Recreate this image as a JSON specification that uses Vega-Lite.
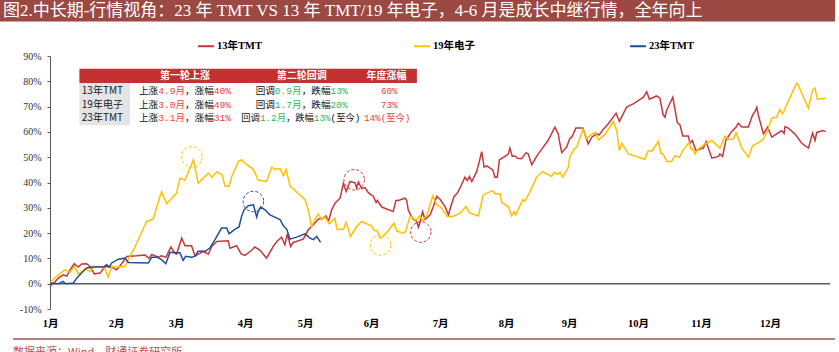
{
  "$schema": "https://vega.github.io/schema/vega-lite/v6.json",
  "width": 780,
  "height": 253,
  "autosize": {"type": "none"},
  "padding": {"left": 50, "top": 56, "right": 9, "bottom": 43},
  "background": "white",
  "config": {"view": {"stroke": null}, "axis": {"title": null, "grid": false, "labelOverlap": false}},
  "datasets": {
    "circles": [
      {"series": "19年电子", "day": 47.3, "pct": 50.1},
      {"series": "23年TMT", "day": 67.8, "pct": 32.5},
      {"series": "13年TMT", "day": 101.4, "pct": 41.1},
      {"series": "19年电子", "day": 110.2, "pct": 15.3},
      {"series": "13年TMT", "day": 123.6, "pct": 20.4}
    ],
    "heads": [
      {"label": "第一轮上涨", "day": 45, "pct": 82.1},
      {"label": "第二轮回调", "day": 83.9, "pct": 82.1},
      {"label": "年度涨幅", "day": 112.2, "pct": 82.1}
    ],
    "rowlabels": [
      {"label": "13年TMT", "pct": 76},
      {"label": "19年电子", "pct": 70.7},
      {"label": "23年TMT", "pct": 65.3}
    ],
    "cells": [
      {"kind": "up", "day": 45, "pct": 76, "text": "上涨4.9月，涨幅40%"},
      {"kind": "up", "day": 45, "pct": 70.7, "text": "上涨3.0月，涨幅49%"},
      {"kind": "up", "day": 45, "pct": 65.3, "text": "上涨3.1月，涨幅31%"},
      {"kind": "down", "day": 83.9, "pct": 76, "text": "回调0.9月，跌幅13%"},
      {"kind": "down", "day": 83.9, "pct": 70.7, "text": "回调1.7月，跌幅20%"},
      {"kind": "downnow", "day": 83.6, "pct": 65.3, "text": "回调1.2月，跌幅13%(至今)"},
      {"kind": "year", "day": 113.1, "pct": 76, "text": "60%"},
      {"kind": "year", "day": 113.1, "pct": 70.7, "text": "73%"},
      {"kind": "year", "day": 112.4, "pct": 65.3, "text": "14%(至今)"}
    ],
    "lines": [
      {"series": "13年TMT", "day": 0, "pct": -0.8}, {"series": "13年TMT", "day": 1.1, "pct": 0}, {"series": "13年TMT", "day": 2.8, "pct": 2.2}, {"series": "13年TMT", "day": 4.4, "pct": 3.5}, {"series": "13年TMT", "day": 5.6, "pct": 3}, {"series": "13年TMT", "day": 6.7, "pct": 5.5}, {"series": "13年TMT", "day": 8.1, "pct": 7.9}, {"series": "13年TMT", "day": 9.4, "pct": 6.6}, {"series": "13年TMT", "day": 10.6, "pct": 7.8}, {"series": "13年TMT", "day": 12.2, "pct": 7.9}, {"series": "13年TMT", "day": 13.3, "pct": 6.8}, {"series": "13年TMT", "day": 14.8, "pct": 3.9}, {"series": "13年TMT", "day": 16.7, "pct": 4.2}, {"series": "13年TMT", "day": 18.3, "pct": 6.8}, {"series": "13年TMT", "day": 20.6, "pct": 6.6}, {"series": "13年TMT", "day": 22.2, "pct": 5.5}, {"series": "13年TMT", "day": 23.9, "pct": 7.9}, {"series": "13年TMT", "day": 25.6, "pct": 10.8}, {"series": "13年TMT", "day": 28.9, "pct": 11}, {"series": "13年TMT", "day": 31.7, "pct": 11.3}, {"series": "13年TMT", "day": 33, "pct": 10}, {"series": "13年TMT", "day": 33.9, "pct": 11.6}, {"series": "13年TMT", "day": 36.1, "pct": 10.5}, {"series": "13年TMT", "day": 37.2, "pct": 11}, {"series": "13年TMT", "day": 38.6, "pct": 10.4}, {"series": "13年TMT", "day": 40.3, "pct": 14.5}, {"series": "13年TMT", "day": 41.7, "pct": 12}, {"series": "13年TMT", "day": 42.2, "pct": 11.7}, {"series": "13年TMT", "day": 43.9, "pct": 18}, {"series": "13年TMT", "day": 45, "pct": 15}, {"series": "13年TMT", "day": 47.2, "pct": 15}, {"series": "13年TMT", "day": 48.3, "pct": 11}, {"series": "13年TMT", "day": 51.1, "pct": 12.7}, {"series": "13年TMT", "day": 52.8, "pct": 11.7}, {"series": "13年TMT", "day": 53.9, "pct": 14.7}, {"series": "13年TMT", "day": 55.6, "pct": 16.7}, {"series": "13年TMT", "day": 59.4, "pct": 17}, {"series": "13年TMT", "day": 60, "pct": 14}, {"series": "13年TMT", "day": 62.2, "pct": 15}, {"series": "13年TMT", "day": 63.7, "pct": 11.8}, {"series": "13年TMT", "day": 65, "pct": 11.2}, {"series": "13年TMT", "day": 67.2, "pct": 13.2}, {"series": "13年TMT", "day": 68.3, "pct": 14.5}, {"series": "13年TMT", "day": 70, "pct": 13.2}, {"series": "13年TMT", "day": 72.2, "pct": 10.1}, {"series": "13年TMT", "day": 74.4, "pct": 14.7}, {"series": "13年TMT", "day": 75.6, "pct": 16.7}, {"series": "13年TMT", "day": 77.2, "pct": 18.4}, {"series": "13年TMT", "day": 78.3, "pct": 15.4}, {"series": "13年TMT", "day": 79.1, "pct": 19.7}, {"series": "13年TMT", "day": 80.2, "pct": 14.7}, {"series": "13年TMT", "day": 81.1, "pct": 16.3}, {"series": "13年TMT", "day": 84.4, "pct": 17.6}, {"series": "13年TMT", "day": 86.1, "pct": 21.3}, {"series": "13年TMT", "day": 87.8, "pct": 23.3}, {"series": "13年TMT", "day": 89.4, "pct": 25.5}, {"series": "13年TMT", "day": 91.1, "pct": 25.9}, {"series": "13年TMT", "day": 92, "pct": 26.8}, {"series": "13年TMT", "day": 92.8, "pct": 24.6}, {"series": "13年TMT", "day": 93.9, "pct": 29.2}, {"series": "13年TMT", "day": 95, "pct": 31.8}, {"series": "13年TMT", "day": 96.7, "pct": 33.8}, {"series": "13年TMT", "day": 97.8, "pct": 39.7}, {"series": "13年TMT", "day": 98.7, "pct": 36.4}, {"series": "13年TMT", "day": 100, "pct": 40.4}, {"series": "13年TMT", "day": 101.7, "pct": 39.9}, {"series": "13年TMT", "day": 102.2, "pct": 37.8}, {"series": "13年TMT", "day": 102.8, "pct": 40.2}, {"series": "13年TMT", "day": 103.9, "pct": 37.6}, {"series": "13年TMT", "day": 105, "pct": 38}, {"series": "13年TMT", "day": 106.1, "pct": 36}, {"series": "13年TMT", "day": 107.8, "pct": 34.5}, {"series": "13年TMT", "day": 108.7, "pct": 32.1}, {"series": "13年TMT", "day": 109.1, "pct": 32.9}, {"series": "13年TMT", "day": 110.6, "pct": 30.3}, {"series": "13年TMT", "day": 114.4, "pct": 28.5}, {"series": "13年TMT", "day": 115.3, "pct": 32.9}, {"series": "13年TMT", "day": 116.1, "pct": 32.9}, {"series": "13年TMT", "day": 118.3, "pct": 33.8}, {"series": "13年TMT", "day": 118.9, "pct": 33}, {"series": "13年TMT", "day": 119.4, "pct": 29.2}, {"series": "13年TMT", "day": 120.2, "pct": 27.2}, {"series": "13年TMT", "day": 121.1, "pct": 25.5}, {"series": "13年TMT", "day": 122.2, "pct": 24.6}, {"series": "13年TMT", "day": 122.8, "pct": 22.4}, {"series": "13年TMT", "day": 123.3, "pct": 24.2}, {"series": "13年TMT", "day": 124.2, "pct": 28.5}, {"series": "13年TMT", "day": 125, "pct": 25.3}, {"series": "13年TMT", "day": 126.7, "pct": 27.2}, {"series": "13年TMT", "day": 127.8, "pct": 30.5}, {"series": "13年TMT", "day": 128.9, "pct": 34.5}, {"series": "13年TMT", "day": 130, "pct": 33.4}, {"series": "13年TMT", "day": 131.7, "pct": 30.5}, {"series": "13年TMT", "day": 132.8, "pct": 27.2}, {"series": "13年TMT", "day": 133.6, "pct": 30.5}, {"series": "13年TMT", "day": 134.7, "pct": 34.5}, {"series": "13年TMT", "day": 135.8, "pct": 35.8}, {"series": "13年TMT", "day": 136.9, "pct": 38.4}, {"series": "13年TMT", "day": 138.3, "pct": 42.1}, {"series": "13年TMT", "day": 139.1, "pct": 40.8}, {"series": "13年TMT", "day": 139.8, "pct": 42.4}, {"series": "13年TMT", "day": 140.6, "pct": 40.4}, {"series": "13年TMT", "day": 142.2, "pct": 44.3}, {"series": "13年TMT", "day": 143.1, "pct": 48.3}, {"series": "13年TMT", "day": 143.9, "pct": 52.2}, {"series": "13年TMT", "day": 144.7, "pct": 46.1}, {"series": "13年TMT", "day": 145.6, "pct": 46.6}, {"series": "13年TMT", "day": 147.6, "pct": 45}, {"series": "13年TMT", "day": 148.3, "pct": 42.1}, {"series": "13年TMT", "day": 149.1, "pct": 42.1}, {"series": "13年TMT", "day": 149.8, "pct": 49}, {"series": "13年TMT", "day": 151.7, "pct": 50.3}, {"series": "13年TMT", "day": 152.8, "pct": 51.3}, {"series": "13年TMT", "day": 153.3, "pct": 53.6}, {"series": "13年TMT", "day": 154.1, "pct": 50.3}, {"series": "13年TMT", "day": 155, "pct": 50.5}, {"series": "13年TMT", "day": 155.8, "pct": 49.6}, {"series": "13年TMT", "day": 157.2, "pct": 49.4}, {"series": "13年TMT", "day": 158.7, "pct": 51.8}, {"series": "13年TMT", "day": 159.4, "pct": 51.3}, {"series": "13年TMT", "day": 160.6, "pct": 47}, {"series": "13年TMT", "day": 162.2, "pct": 50.3}, {"series": "13年TMT", "day": 164.4, "pct": 54}, {"series": "13年TMT", "day": 166.1, "pct": 56.8}, {"series": "13年TMT", "day": 168.3, "pct": 61.9}, {"series": "13年TMT", "day": 169.4, "pct": 59.3}, {"series": "13年TMT", "day": 170, "pct": 55.3}, {"series": "13年TMT", "day": 170.6, "pct": 51.8}, {"series": "13年TMT", "day": 172.2, "pct": 54}, {"series": "13年TMT", "day": 173.3, "pct": 57.5}, {"series": "13年TMT", "day": 173.9, "pct": 57.9}, {"series": "13年TMT", "day": 175.3, "pct": 61.5}, {"series": "13年TMT", "day": 177.6, "pct": 61.5}, {"series": "13年TMT", "day": 178, "pct": 60.2}, {"series": "13年TMT", "day": 179.4, "pct": 55.3}, {"series": "13年TMT", "day": 180.6, "pct": 57.9}, {"series": "13年TMT", "day": 182.2, "pct": 59.2}, {"series": "13年TMT", "day": 183.1, "pct": 58.8}, {"series": "13年TMT", "day": 184.4, "pct": 61}, {"series": "13年TMT", "day": 186.1, "pct": 63.2}, {"series": "13年TMT", "day": 188.7, "pct": 67.4}, {"series": "13年TMT", "day": 189.8, "pct": 64.1}, {"series": "13年TMT", "day": 192.2, "pct": 69.8}, {"series": "13年TMT", "day": 194.4, "pct": 71.1}, {"series": "13年TMT", "day": 196.7, "pct": 72.9}, {"series": "13年TMT", "day": 197.8, "pct": 73.7}, {"series": "13年TMT", "day": 198.9, "pct": 75.9}, {"series": "13年TMT", "day": 199.8, "pct": 72.9}, {"series": "13年TMT", "day": 202.2, "pct": 74.2}, {"series": "13年TMT", "day": 203.3, "pct": 73.3}, {"series": "13年TMT", "day": 204.4, "pct": 66.7}, {"series": "13年TMT", "day": 205, "pct": 65.8}, {"series": "13年TMT", "day": 205.6, "pct": 68.7}, {"series": "13年TMT", "day": 207.6, "pct": 73.7}, {"series": "13年TMT", "day": 209.1, "pct": 63.7}, {"series": "13年TMT", "day": 210, "pct": 62.8}, {"series": "13年TMT", "day": 210.9, "pct": 58.4}, {"series": "13年TMT", "day": 212.8, "pct": 58.4}, {"series": "13年TMT", "day": 213.3, "pct": 55.5}, {"series": "13年TMT", "day": 214.1, "pct": 56.6}, {"series": "13年TMT", "day": 215.3, "pct": 52.6}, {"series": "13年TMT", "day": 216.7, "pct": 53.2}, {"series": "13年TMT", "day": 217.8, "pct": 53.6}, {"series": "13年TMT", "day": 218.7, "pct": 56.2}, {"series": "13年TMT", "day": 220.6, "pct": 49.6}, {"series": "13年TMT", "day": 222.8, "pct": 50.3}, {"series": "13年TMT", "day": 223.3, "pct": 51.3}, {"series": "13年TMT", "day": 224.2, "pct": 50.3}, {"series": "13年TMT", "day": 225.3, "pct": 56.8}, {"series": "13年TMT", "day": 227.2, "pct": 60.1}, {"series": "13年TMT", "day": 228.7, "pct": 61.9}, {"series": "13年TMT", "day": 229.4, "pct": 63.4}, {"series": "13年TMT", "day": 230.6, "pct": 61.9}, {"series": "13年TMT", "day": 232.8, "pct": 61.9}, {"series": "13年TMT", "day": 234.2, "pct": 66.7}, {"series": "13年TMT", "day": 235, "pct": 68}, {"series": "13年TMT", "day": 235.6, "pct": 69.8}, {"series": "13年TMT", "day": 236.1, "pct": 66.7}, {"series": "13年TMT", "day": 237.8, "pct": 59.2}, {"series": "13年TMT", "day": 239.2, "pct": 61.9}, {"series": "13年TMT", "day": 240.6, "pct": 57.9}, {"series": "13年TMT", "day": 242.2, "pct": 59.2}, {"series": "13年TMT", "day": 243.9, "pct": 60.5}, {"series": "13年TMT", "day": 244.7, "pct": 59.4}, {"series": "13年TMT", "day": 245, "pct": 62.1}, {"series": "13年TMT", "day": 246.1, "pct": 61.5}, {"series": "13年TMT", "day": 248.3, "pct": 59.2}, {"series": "13年TMT", "day": 250.6, "pct": 55.5}, {"series": "13年TMT", "day": 252.8, "pct": 53.6}, {"series": "13年TMT", "day": 254.2, "pct": 59.5}, {"series": "13年TMT", "day": 255, "pct": 56.6}, {"series": "13年TMT", "day": 255.6, "pct": 59.8}, {"series": "13年TMT", "day": 257.6, "pct": 60.5}, {"series": "13年TMT", "day": 258.6, "pct": 60.1},
      {"series": "19年电子", "day": 0, "pct": 0.5}, {"series": "19年电子", "day": 2.8, "pct": 3.5}, {"series": "19年电子", "day": 5, "pct": 5.5}, {"series": "19年电子", "day": 6.7, "pct": 4.5}, {"series": "19年电子", "day": 8.1, "pct": 6.8}, {"series": "19年电子", "day": 9.4, "pct": 3.9}, {"series": "19年电子", "day": 11.7, "pct": 5.8}, {"series": "19年电子", "day": 13.3, "pct": 4.9}, {"series": "19年电子", "day": 14.8, "pct": 6.8}, {"series": "19年电子", "day": 17.2, "pct": 6.8}, {"series": "19年电子", "day": 18.3, "pct": 5.8}, {"series": "19年电子", "day": 19.4, "pct": 2.6}, {"series": "19年电子", "day": 20.6, "pct": 6.8}, {"series": "19年电子", "day": 22.2, "pct": 6.6}, {"series": "19年电子", "day": 25, "pct": 6.8}, {"series": "19年电子", "day": 26.1, "pct": 9.5}, {"series": "19年电子", "day": 28.9, "pct": 16}, {"series": "19年电子", "day": 32.2, "pct": 24.6}, {"series": "19年电子", "day": 34.4, "pct": 25.5}, {"series": "19年电子", "day": 35.6, "pct": 30.5}, {"series": "19年电子", "day": 37.2, "pct": 36.4}, {"series": "19年电子", "day": 38.9, "pct": 31.6}, {"series": "19年电子", "day": 42.2, "pct": 35.8}, {"series": "19年电子", "day": 43.3, "pct": 41.7}, {"series": "19年电子", "day": 45, "pct": 41}, {"series": "19年电子", "day": 47.8, "pct": 49}, {"series": "19年电子", "day": 49.4, "pct": 39.7}, {"series": "19年电子", "day": 52.8, "pct": 43.7}, {"series": "19年电子", "day": 53.9, "pct": 42}, {"series": "19年电子", "day": 55.6, "pct": 44.3}, {"series": "19年电子", "day": 57.4, "pct": 43}, {"series": "19年电子", "day": 58.3, "pct": 38.7}, {"series": "19年电子", "day": 59.7, "pct": 38.4}, {"series": "19年电子", "day": 60.6, "pct": 42.4}, {"series": "19年电子", "day": 62.8, "pct": 48.3}, {"series": "19年电子", "day": 63.9, "pct": 49}, {"series": "19年电子", "day": 65, "pct": 47.6}, {"series": "19年电子", "day": 67.8, "pct": 45.2}, {"series": "19年电子", "day": 69.4, "pct": 41}, {"series": "19年电子", "day": 72.2, "pct": 40.4}, {"series": "19年电子", "day": 73.9, "pct": 46.1}, {"series": "19年电子", "day": 75, "pct": 45.2}, {"series": "19年电子", "day": 76.7, "pct": 45.5}, {"series": "19年电子", "day": 77.8, "pct": 42.6}, {"series": "19年电子", "day": 78.7, "pct": 45.2}, {"series": "19年电子", "day": 80, "pct": 38.7}, {"series": "19年电子", "day": 85, "pct": 33.2}, {"series": "19年电子", "day": 86.1, "pct": 29.2}, {"series": "19年电子", "day": 87.2, "pct": 22.6}, {"series": "19年电子", "day": 88, "pct": 24.6}, {"series": "19年电子", "day": 89.4, "pct": 27.6}, {"series": "19年电子", "day": 90.6, "pct": 25.3}, {"series": "19年电子", "day": 91.7, "pct": 26.3}, {"series": "19年电子", "day": 93.1, "pct": 23.7}, {"series": "19年电子", "day": 95, "pct": 25.9}, {"series": "19年电子", "day": 95.6, "pct": 21.6}, {"series": "19年电子", "day": 97.8, "pct": 21.4}, {"series": "19年电子", "day": 98.7, "pct": 24.2}, {"series": "19年电子", "day": 100.2, "pct": 18.7}, {"series": "19年电子", "day": 102.2, "pct": 22.6}, {"series": "19年电子", "day": 103.9, "pct": 24.6}, {"series": "19年电子", "day": 105.6, "pct": 23.7}, {"series": "19年电子", "day": 107.2, "pct": 22.9}, {"series": "19年电子", "day": 108, "pct": 21}, {"series": "19年电子", "day": 109.1, "pct": 21}, {"series": "19年电子", "day": 110, "pct": 18}, {"series": "19年电子", "day": 111.1, "pct": 18.8}, {"series": "19年电子", "day": 112.8, "pct": 21}, {"series": "19年电子", "day": 114.7, "pct": 24}, {"series": "19年电子", "day": 115.6, "pct": 20.8}, {"series": "19年电子", "day": 117.8, "pct": 20}, {"series": "19年电子", "day": 118.6, "pct": 20.8}, {"series": "19年电子", "day": 120, "pct": 26.8}, {"series": "19年电子", "day": 122, "pct": 25}, {"series": "19年电子", "day": 123.3, "pct": 26.8}, {"series": "19年电子", "day": 124.2, "pct": 25}, {"series": "19年电子", "day": 125.6, "pct": 26.8}, {"series": "19年电子", "day": 127.6, "pct": 34.7}, {"series": "19年电子", "day": 128.9, "pct": 31.2}, {"series": "19年电子", "day": 130, "pct": 30.5}, {"series": "19年电子", "day": 131.1, "pct": 28.9}, {"series": "19年电子", "day": 132.4, "pct": 26.6}, {"series": "19年电子", "day": 134.4, "pct": 26.6}, {"series": "19年电子", "day": 136.7, "pct": 27.9}, {"series": "19年电子", "day": 138.7, "pct": 30.5}, {"series": "19年电子", "day": 139.8, "pct": 28.1}, {"series": "19年电子", "day": 142.8, "pct": 26.8}, {"series": "19年电子", "day": 144.4, "pct": 35.1}, {"series": "19年电子", "day": 145.6, "pct": 35.8}, {"series": "19年电子", "day": 147.6, "pct": 36.8}, {"series": "19年电子", "day": 148.3, "pct": 35.6}, {"series": "19年电子", "day": 150, "pct": 35.6}, {"series": "19年电子", "day": 150.6, "pct": 32.1}, {"series": "19年电子", "day": 152.8, "pct": 30.5}, {"series": "19年电子", "day": 153.9, "pct": 26.8}, {"series": "19年电子", "day": 154.7, "pct": 28.5}, {"series": "19年电子", "day": 155.3, "pct": 27.2}, {"series": "19年电子", "day": 157.6, "pct": 33.2}, {"series": "19年电子", "day": 158.3, "pct": 32.6}, {"series": "19年电子", "day": 160, "pct": 36.4}, {"series": "19年电子", "day": 162.2, "pct": 42.1}, {"series": "19年电子", "day": 164.2, "pct": 44.3}, {"series": "19年电子", "day": 167.2, "pct": 42.4}, {"series": "19年电子", "day": 168.1, "pct": 44}, {"series": "19年电子", "day": 169.2, "pct": 43.2}, {"series": "19年电子", "day": 170, "pct": 44}, {"series": "19年电子", "day": 170.9, "pct": 42.1}, {"series": "19年电子", "day": 172.8, "pct": 46.1}, {"series": "19年电子", "day": 173.3, "pct": 50.3}, {"series": "19年电子", "day": 174.7, "pct": 53.2}, {"series": "19年电子", "day": 175.6, "pct": 53.9}, {"series": "19年电子", "day": 177.6, "pct": 61}, {"series": "19年电子", "day": 178.9, "pct": 57.5}, {"series": "19年电子", "day": 180.2, "pct": 58.7}, {"series": "19年电子", "day": 181.7, "pct": 59.8}, {"series": "19年电子", "day": 182.8, "pct": 56.8}, {"series": "19年电子", "day": 185, "pct": 59}, {"series": "19年电子", "day": 187.8, "pct": 64.1}, {"series": "19年电子", "day": 188.9, "pct": 60.5}, {"series": "19年电子", "day": 189.8, "pct": 52.6}, {"series": "19年电子", "day": 190.6, "pct": 55.5}, {"series": "19年电子", "day": 192.8, "pct": 51.3}, {"series": "19年电子", "day": 198.3, "pct": 49.2}, {"series": "19年电子", "day": 199.4, "pct": 52.6}, {"series": "19年电子", "day": 200.6, "pct": 52.3}, {"series": "19年电子", "day": 202.8, "pct": 56.2}, {"series": "19年电子", "day": 203.6, "pct": 51.6}, {"series": "19年电子", "day": 204.4, "pct": 51.2}, {"series": "19年电子", "day": 205.6, "pct": 48.3}, {"series": "19年电子", "day": 207.2, "pct": 48.3}, {"series": "19年电子", "day": 208.3, "pct": 50.5}, {"series": "19年电子", "day": 209.8, "pct": 50}, {"series": "19年电子", "day": 211.1, "pct": 52.9}, {"series": "19年电子", "day": 213.1, "pct": 55.8}, {"series": "19年电子", "day": 213.6, "pct": 53.2}, {"series": "19年电子", "day": 214.2, "pct": 53.2}, {"series": "19年电子", "day": 215, "pct": 51.3}, {"series": "19年电子", "day": 216.1, "pct": 53.2}, {"series": "19年电子", "day": 218.3, "pct": 55.3}, {"series": "19年电子", "day": 219.4, "pct": 55.9}, {"series": "19年电子", "day": 220.6, "pct": 56.6}, {"series": "19年电子", "day": 223.3, "pct": 53.6}, {"series": "19年电子", "day": 225, "pct": 58.4}, {"series": "19年电子", "day": 226.1, "pct": 57.1}, {"series": "19年电子", "day": 227.8, "pct": 57.1}, {"series": "19年电子", "day": 228.7, "pct": 59.7}, {"series": "19年电子", "day": 230.6, "pct": 53.6}, {"series": "19年电子", "day": 232.8, "pct": 50}, {"series": "19年电子", "day": 234.2, "pct": 54.5}, {"series": "19年电子", "day": 237.6, "pct": 56.8}, {"series": "19年电子", "day": 238.9, "pct": 59.7}, {"series": "19年电子", "day": 240.6, "pct": 65.4}, {"series": "19年电子", "day": 242.2, "pct": 65.8}, {"series": "19年电子", "day": 243.3, "pct": 68.9}, {"series": "19年电子", "day": 244.2, "pct": 67.1}, {"series": "19年电子", "day": 247.8, "pct": 76.6}, {"series": "19年电子", "day": 248.9, "pct": 79.2}, {"series": "19年电子", "day": 249.4, "pct": 78.6}, {"series": "19年电子", "day": 250.6, "pct": 75.3}, {"series": "19年电子", "day": 252.8, "pct": 69.4}, {"series": "19年电子", "day": 254.2, "pct": 76.6}, {"series": "19年电子", "day": 255, "pct": 77.3}, {"series": "19年电子", "day": 255.8, "pct": 72.9}, {"series": "19年电子", "day": 258.6, "pct": 73.3},
      {"series": "23年TMT", "day": 0, "pct": 0.3}, {"series": "23年TMT", "day": 2.8, "pct": 0}, {"series": "23年TMT", "day": 4.4, "pct": 0.9}, {"series": "23年TMT", "day": 5.2, "pct": 0}, {"series": "23年TMT", "day": 7.8, "pct": 0.3}, {"series": "23年TMT", "day": 8.9, "pct": 2.2}, {"series": "23年TMT", "day": 10.3, "pct": 3.9}, {"series": "23年TMT", "day": 12.2, "pct": 6.2}, {"series": "23年TMT", "day": 13.9, "pct": 6.6}, {"series": "23年TMT", "day": 17.8, "pct": 6.6}, {"series": "23年TMT", "day": 18.9, "pct": 7.5}, {"series": "23年TMT", "day": 19.7, "pct": 6.6}, {"series": "23年TMT", "day": 20.6, "pct": 8.2}, {"series": "23年TMT", "day": 22.8, "pct": 9.7}, {"series": "23年TMT", "day": 25, "pct": 10.1}, {"series": "23年TMT", "day": 26.1, "pct": 8.4}, {"series": "23年TMT", "day": 32.8, "pct": 8.2}, {"series": "23年TMT", "day": 33.9, "pct": 10.5}, {"series": "23年TMT", "day": 35.6, "pct": 10.5}, {"series": "23年TMT", "day": 37.2, "pct": 9.5}, {"series": "23年TMT", "day": 38.6, "pct": 7.9}, {"series": "23年TMT", "day": 40, "pct": 12.4}, {"series": "23年TMT", "day": 42.2, "pct": 12.2}, {"series": "23年TMT", "day": 43.3, "pct": 12.2}, {"series": "23年TMT", "day": 44.4, "pct": 9.2}, {"series": "23年TMT", "day": 45.2, "pct": 10.8}, {"series": "23年TMT", "day": 47.2, "pct": 10.5}, {"series": "23年TMT", "day": 48.3, "pct": 10.8}, {"series": "23年TMT", "day": 49.4, "pct": 12.8}, {"series": "23年TMT", "day": 51.7, "pct": 12.8}, {"series": "23年TMT", "day": 53.3, "pct": 14.1}, {"series": "23年TMT", "day": 55, "pct": 17.4}, {"series": "23年TMT", "day": 57.2, "pct": 22}, {"series": "23年TMT", "day": 58.9, "pct": 22}, {"series": "23年TMT", "day": 59.7, "pct": 19.7}, {"series": "23年TMT", "day": 61.7, "pct": 21.6}, {"series": "23年TMT", "day": 63, "pct": 22.4}, {"series": "23年TMT", "day": 63.9, "pct": 26.8}, {"series": "23年TMT", "day": 64.7, "pct": 29.2}, {"series": "23年TMT", "day": 66.1, "pct": 30.8}, {"series": "23年TMT", "day": 67.8, "pct": 31.2}, {"series": "23年TMT", "day": 68.9, "pct": 26.3}, {"series": "23年TMT", "day": 69.4, "pct": 28.5}, {"series": "23年TMT", "day": 70.2, "pct": 30.3}, {"series": "23年TMT", "day": 71.7, "pct": 29.2}, {"series": "23年TMT", "day": 73.3, "pct": 27.2}, {"series": "23年TMT", "day": 74.4, "pct": 26.6}, {"series": "23年TMT", "day": 75.6, "pct": 25.9}, {"series": "23年TMT", "day": 76.7, "pct": 25.3}, {"series": "23年TMT", "day": 77.8, "pct": 22.9}, {"series": "23年TMT", "day": 78.9, "pct": 21.6}, {"series": "23年TMT", "day": 80, "pct": 17.6}, {"series": "23年TMT", "day": 82.2, "pct": 18.4}, {"series": "23年TMT", "day": 85, "pct": 19.7}, {"series": "23年TMT", "day": 86.7, "pct": 18}, {"series": "23年TMT", "day": 87.8, "pct": 17.4}, {"series": "23年TMT", "day": 88.9, "pct": 18.7}, {"series": "23年TMT", "day": 90.2, "pct": 16.3}
    ]
  },
  "layer": [
    {
      "data": {"values": [{"bar": "title"}]},
      "mark": {"type": "rect", "color": "#9C4843"},
      "encoding": {
        "x": {"datum": -16.7}, "x2": {"datum": 261.7},
        "y": {"datum": 112.1}, "y2": {"datum": 103.6}
      }
    },
    {
      "data": {"values": [{"t": "图2.中长期-行情视角：23 年 TMT VS 13 年 TMT/19 年电子，4-6 月是成长中继行情，全年向上"}]},
      "mark": {"type": "text", "align": "left", "baseline": "middle", "font": "Liberation Serif, Noto Sans CJK SC", "fontSize": 17, "color": "#FFFFFF"},
      "encoding": {"x": {"datum": -15.7}, "y": {"datum": 107.9}, "text": {"field": "t"}}
    },
    {
      "data": {"values": [{"bar": "head"}]},
      "mark": {"type": "rect", "color": "#C43131"},
      "encoding": {"x": {"datum": 9.8}, "x2": {"datum": 122.3}, "y": {"datum": 85}, "y2": {"datum": 79.3}}
    },
    {
      "data": {"values": [{"bar": "labels"}]},
      "mark": {"type": "rect", "color": "#E4E4E4"},
      "encoding": {"x": {"datum": 9.8}, "x2": {"datum": 26.7}, "y": {"datum": 79.3}, "y2": {"datum": 62.6}}
    },
    {
      "data": {"values": [{"bar": "zero"}]},
      "mark": {"type": "rule", "color": "#595959", "strokeWidth": 1.5},
      "encoding": {"y": {"datum": 0}}
    },
    {
      "data": {"name": "lines"},
      "mark": {"type": "line", "strokeWidth": 1.5},
      "encoding": {
        "x": {
          "field": "day", "type": "quantitative",
          "scale": {"domain": [0, 260], "nice": false, "zero": false},
          "axis": {
            "values": [0, 22, 42, 65, 85, 107, 130, 152, 173, 196, 217, 240],
            "labelExpr": "(indexof([0, 22, 42, 65, 85, 107, 130, 152, 173, 196, 217, 240], datum.value) + 1) + '月'",
            "domain": false, "ticks": false, "labelFlush": false, "labelOverlap": false,
            "labelFont": "Liberation Serif, Noto Sans CJK SC", "labelFontWeight": "bold", "labelFontSize": 10.5,
            "labelColor": "#000000", "labelPadding": 9
          }
        },
        "y": {
          "field": "pct", "type": "quantitative",
          "scale": {"domain": [-10, 90], "nice": false, "zero": false},
          "axis": {
            "tickCount": 10,
            "labelExpr": "datum.value + '%'",
            "labelFlush": false, "labelOverlap": false,
            "domainColor": "#595959", "tickColor": "#595959", "tickSize": 3,
            "labelFont": "Liberation Serif", "labelFontSize": 10, "labelColor": "#333333", "labelPadding": 6
          }
        },
        "color": {
          "field": "series", "type": "nominal",
          "scale": {"domain": ["13年TMT", "19年电子", "23年TMT"], "range": ["#C5373D", "#FFC000", "#1F4E99"]},
          "legend": {
            "title": null, "orient": "none", "legendX": 147, "legendY": -19,
            "direction": "horizontal", "columns": 3, "gridAlign": "all", "columnPadding": 148,
            "symbolType": "stroke", "symbolSize": 256, "symbolStrokeWidth": 2, "labelOffset": 2,
            "labelFont": "Liberation Serif, Noto Sans CJK SC", "labelFontWeight": "bold", "labelFontSize": 10.5, "labelColor": "#000000"
          }
        }
      }
    },
    {
      "data": {"name": "circles"},
      "mark": {"type": "point", "shape": "circle", "filled": false, "size": 420, "strokeDash": [3, 2], "strokeWidth": 1, "opacity": 1},
      "encoding": {
        "x": {"field": "day", "type": "quantitative"},
        "y": {"field": "pct", "type": "quantitative"},
        "stroke": {"field": "series", "type": "nominal", "scale": {"domain": ["13年TMT", "19年电子", "23年TMT"], "range": ["#C5373D", "#FFC000", "#1F4E99"]}, "legend": null}
      }
    },
    {
      "data": {"name": "heads"},
      "mark": {"type": "text", "align": "center", "baseline": "middle", "font": "Noto Sans CJK SC", "fontWeight": "bold", "fontSize": 10, "color": "#FFFFFF"},
      "encoding": {"x": {"field": "day", "type": "quantitative"}, "y": {"field": "pct", "type": "quantitative"}, "text": {"field": "label"}}
    },
    {
      "data": {"name": "rowlabels"},
      "mark": {"type": "text", "align": "left", "baseline": "middle", "font": "Noto Sans CJK SC", "fontSize": 10, "color": "#1A1A1A"},
      "encoding": {"x": {"datum": 10.6}, "y": {"field": "pct", "type": "quantitative"}, "text": {"field": "label"}}
    },
    {
      "data": {"name": "cells"},
      "transform": [{"filter": "datum.kind === 'up'"}],
      "mark": {
        "type": "text", "align": "center", "baseline": "middle", "font": "Liberation Mono, Noto Sans CJK SC", "fontSize": 9.6,
        "color": {"gradient": "linear", "x1": 0, "y1": 0, "x2": 1, "y2": 0, "stops": [
          {"offset": 0, "color": "#1A1A1A"}, {"offset": 0.2083, "color": "#1A1A1A"},
          {"offset": 0.2083, "color": "#F03A3A"}, {"offset": 0.5, "color": "#F03A3A"},
          {"offset": 0.5, "color": "#1A1A1A"}, {"offset": 0.8125, "color": "#1A1A1A"},
          {"offset": 0.8125, "color": "#F03A3A"}, {"offset": 1, "color": "#F03A3A"}
        ]}
      },
      "encoding": {"x": {"field": "day", "type": "quantitative"}, "y": {"field": "pct", "type": "quantitative"}, "text": {"field": "text"}}
    },
    {
      "data": {"name": "cells"},
      "transform": [{"filter": "datum.kind === 'down'"}],
      "mark": {
        "type": "text", "align": "center", "baseline": "middle", "font": "Liberation Mono, Noto Sans CJK SC", "fontSize": 9.6,
        "color": {"gradient": "linear", "x1": 0, "y1": 0, "x2": 1, "y2": 0, "stops": [
          {"offset": 0, "color": "#1A1A1A"}, {"offset": 0.2083, "color": "#1A1A1A"},
          {"offset": 0.2083, "color": "#2BB35A"}, {"offset": 0.5, "color": "#2BB35A"},
          {"offset": 0.5, "color": "#1A1A1A"}, {"offset": 0.8125, "color": "#1A1A1A"},
          {"offset": 0.8125, "color": "#2BB35A"}, {"offset": 1, "color": "#2BB35A"}
        ]}
      },
      "encoding": {"x": {"field": "day", "type": "quantitative"}, "y": {"field": "pct", "type": "quantitative"}, "text": {"field": "text"}}
    },
    {
      "data": {"name": "cells"},
      "transform": [{"filter": "datum.kind === 'downnow'"}],
      "mark": {
        "type": "text", "align": "center", "baseline": "middle", "font": "Liberation Mono, Noto Sans CJK SC", "fontSize": 9.3,
        "color": {"gradient": "linear", "x1": 0, "y1": 0, "x2": 1, "y2": 0, "stops": [
          {"offset": 0, "color": "#1A1A1A"}, {"offset": 0.1563, "color": "#1A1A1A"},
          {"offset": 0.1563, "color": "#2BB35A"}, {"offset": 0.375, "color": "#2BB35A"},
          {"offset": 0.375, "color": "#1A1A1A"}, {"offset": 0.6094, "color": "#1A1A1A"},
          {"offset": 0.6094, "color": "#2BB35A"}, {"offset": 0.75, "color": "#2BB35A"},
          {"offset": 0.75, "color": "#1A1A1A"}, {"offset": 1, "color": "#1A1A1A"}
        ]}
      },
      "encoding": {"x": {"field": "day", "type": "quantitative"}, "y": {"field": "pct", "type": "quantitative"}, "text": {"field": "text"}}
    },
    {
      "data": {"name": "cells"},
      "transform": [{"filter": "datum.kind === 'year'"}],
      "mark": {"type": "text", "align": "center", "baseline": "middle", "font": "Liberation Mono, Noto Sans CJK SC", "fontSize": 9.3, "color": "#F03A3A"},
      "encoding": {"x": {"field": "day", "type": "quantitative"}, "y": {"field": "pct", "type": "quantitative"}, "text": {"field": "text"}}
    },
    {
      "data": {"values": [{"bar": "foot"}]},
      "mark": {"type": "rule", "color": "#A5524C", "strokeWidth": 1.5},
      "encoding": {"x": {"datum": -12.3}, "x2": {"datum": 261.7}, "y": {"datum": -21.9}}
    },
    {
      "data": {"values": [{"t": "数据来源：Wind，财通证券研究所"}]},
      "mark": {"type": "text", "align": "left", "baseline": "middle", "font": "Noto Sans CJK SC", "fontSize": 11, "color": "#B5534D"},
      "encoding": {"x": {"datum": -12.3}, "y": {"datum": -27.4}, "text": {"field": "t"}}
    }
  ]
}
